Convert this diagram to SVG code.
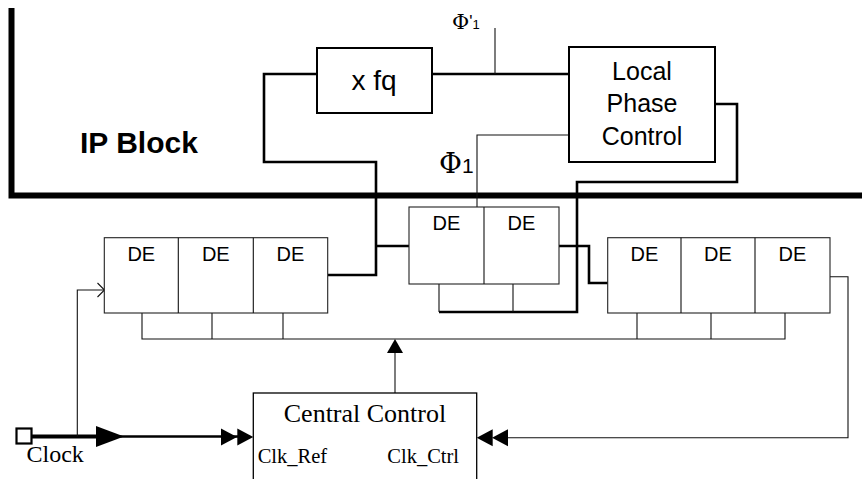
<svg xmlns="http://www.w3.org/2000/svg" width="862" height="479" viewBox="0 0 862 479">
<style>
.thick{fill:none;stroke:#000;stroke-width:2.6}
.thin{fill:none;stroke:#111;stroke-width:1.1}
.box{fill:#fff;stroke:#000;stroke-width:2}
.de{fill:#fff;stroke:#222;stroke-width:1.1}
.sans{font-family:"Liberation Sans",Arial,sans-serif;fill:#000}
.serif{font-family:"Liberation Serif","Times New Roman",serif;fill:#000}
.phi{font-family:"DejaVu Serif","Liberation Serif",serif;fill:#000}
.lbl{font-family:"Liberation Sans",Arial,sans-serif;font-size:20px;text-anchor:middle;fill:#000}
</style>
<defs>
<polygon id="dbl" points="0,0 -16,-8.5 -16,8.5"/>
</defs>
<rect width="862" height="479" fill="#fff"/>
<g id="ip-block">
<path d="M11.5,8 V195.5 H862" fill="none" stroke="#000" stroke-width="6"/>
<text x="80" y="153" class="sans" font-size="30" font-weight="bold">IP Block</text>
</g>
<g id="connectors">
<path class="thick" d="M317,74 H264 V162 H376 V275 H328"/>
<path class="thick" d="M376,246 H409"/>
<path class="thick" d="M432,74 H569"/>
<path class="thin" d="M495,28 V74" stroke-width="1.6"/>
<path class="thin" d="M569,135 H477 V210"/>
<path class="thick" d="M715,104 H737 V182 H577 V312 H439"/>
<path class="thin" d="M439,284 V312 M513,284 V312"/>
<path class="thick" d="M559,246 H589 V283 H608"/>
<path class="thin" d="M830,276.7 H848 V437.7 H506"/>
<use href="#dbl" x="476.7" y="437.7" transform="rotate(180 476.7 437.7)"/>
<use href="#dbl" x="492" y="437.7" transform="rotate(180 492 437.7)"/>
<path class="thin" d="M142,313 V339 H785 V313 M212,313 V339 M283,313 V339 M637,313 V339 M711,313 V339"/>
<path class="thin" d="M395,393 V352"/>
<polygon points="395,339 387,353 403,353"/>
<path d="M32,436.5 H97" stroke="#000" stroke-width="4"/>
<polygon points="96,426 124,436.5 96,447"/>
<path d="M120,436.5 H238" stroke="#000" stroke-width="2.6"/>
<use href="#dbl" x="237" y="437"/>
<use href="#dbl" x="253.3" y="437"/>
<path class="thin" d="M77.3,436.5 V290 H104"/>
<path class="thin" d="M97.5,283 L104.5,290 L97.5,297"/>
</g>
<g id="clock">
<rect x="16.5" y="428.5" width="15" height="15" fill="#fff" stroke="#000" stroke-width="2.2"/>
<text x="26.5" y="462" class="serif" font-size="24">Clock</text>
</g>
<g id="xfq">
<rect x="317" y="48" width="115" height="65" class="box"/>
<text x="374" y="90" class="sans" font-size="28" text-anchor="middle">x fq</text>
</g>
<g id="local-phase-control">
<rect x="569" y="47" width="146" height="115" class="box"/>
<text class="sans" font-size="25" text-anchor="middle"><tspan x="642" y="80">Local</tspan><tspan x="642" y="112">Phase</tspan><tspan x="642" y="145">Control</tspan></text>
</g>
<g id="phi1-prime">
<text x="452" y="28.5" class="phi" font-size="21">Φ<tspan class="sans" font-size="17" dy="-2">'</tspan><tspan class="sans" font-size="13" dy="2">1</tspan></text>
</g>
<g id="phi1">
<text x="439" y="172.5" class="phi" font-size="28">Φ<tspan class="sans" font-size="21">1</tspan></text>
</g>
<g id="de-left">
<rect x="104.3" y="237.7" width="223.4" height="75.3" class="de"/>
<path class="thin" d="M178.3,237.7 V313 M253.3,237.7 V313"/>
<text x="141.3" y="260.7" class="lbl">DE</text>
<text x="215.8" y="260.7" class="lbl">DE</text>
<text x="290.5" y="260.7" class="lbl">DE</text>
</g>
<g id="de-middle">
<rect x="409" y="207" width="150" height="77" class="de"/>
<path class="thin" d="M484,207 V284"/>
<text x="446.5" y="230" class="lbl">DE</text>
<text x="521.5" y="230" class="lbl">DE</text>
</g>
<g id="de-right">
<rect x="607.7" y="237.7" width="222.3" height="75.3" class="de"/>
<path class="thin" d="M681,237.7 V313 M755,237.7 V313"/>
<text x="644.5" y="260.7" class="lbl">DE</text>
<text x="718" y="260.7" class="lbl">DE</text>
<text x="792.5" y="260.7" class="lbl">DE</text>
</g>
<g id="central-control">
<rect x="253.3" y="393" width="223.4" height="100" fill="#fff" stroke="#000" stroke-width="1.3"/>
<text x="365" y="421.7" class="serif" font-size="26" text-anchor="middle">Central Control</text>
<text x="257.7" y="462.7" class="serif" font-size="20.5">Clk_Ref</text>
<text x="387.3" y="462.7" class="serif" font-size="20.5">Clk_Ctrl</text>
</g>
</svg>
